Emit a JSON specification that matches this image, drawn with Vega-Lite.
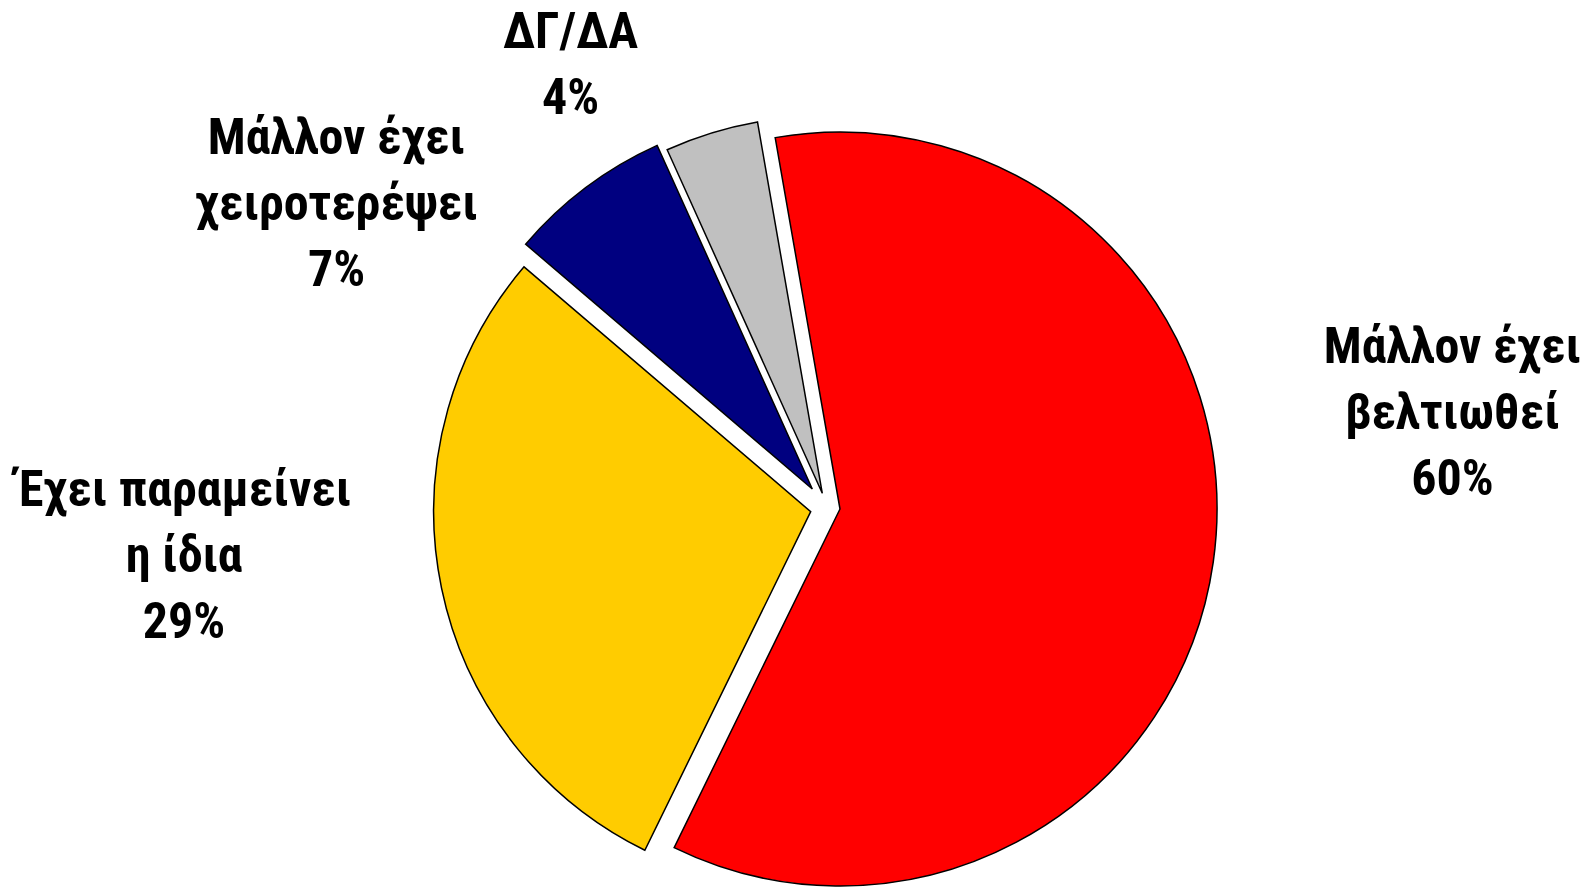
{
  "$schema": "https://vega.github.io/schema/vega-lite/v6.json",
  "width": 1542,
  "height": 760,
  "autosize": {"type": "none"},
  "padding": {"left": 54, "top": 127, "right": 0, "bottom": 0},
  "background": "white",
  "config": {"view": {"stroke": null}},
  "data": {"values": [
    {"category": "Μάλλον έχει βελτιωθεί", "value": 60, "label": "Μάλλον έχει\nβελτιωθεί\n60%"},
    {"category": "Έχει παραμείνει η ίδια", "value": 29, "label": "Έχει παραμείνει\nη ίδια\n29%"},
    {"category": "Μάλλον έχει χειροτερέψει", "value": 7, "label": "Μάλλον έχει\nχειροτερέψει\n7%"},
    {"category": "ΔΓ/ΔΑ", "value": 4, "label": "ΔΓ/ΔΑ\n4%"}
  ]},
  "transform": [
    {"stack": "value", "groupby": [], "sort": [{"field": "value", "order": "descending"}], "as": ["v0", "v1"]}
  ],
  "layer": [
    {
      "transform": [{"filter": "datum.category === 'Μάλλον έχει βελτιωθεί'"}],
      "mark": {"type": "arc", "outerRadius": 377, "xOffset": 15, "yOffset": 2, "stroke": "black", "strokeWidth": 1.5},
      "encoding": {
        "theta": {"field": "v0", "type": "quantitative", "scale": {"type": "linear", "domain": [0, 100], "range": [-0.1728, 6.1104]}},
        "theta2": {"field": "v1"},
        "color": {"field": "category", "type": "nominal", "legend": null,
          "scale": {"domain": ["Μάλλον έχει βελτιωθεί", "Έχει παραμείνει η ίδια", "Μάλλον έχει χειροτερέψει", "ΔΓ/ΔΑ"], "range": ["#FF0000", "#FFCC00", "#000080", "#C0C0C0"]}}
      }
    },
    {
      "transform": [{"filter": "datum.category === 'Έχει παραμείνει η ίδια'"}],
      "mark": {"type": "arc", "outerRadius": 377, "xOffset": -14.3, "yOffset": 4.7, "stroke": "black", "strokeWidth": 1.5},
      "encoding": {
        "theta": {"field": "v0", "type": "quantitative"},
        "theta2": {"field": "v1"},
        "color": {"field": "category", "type": "nominal", "legend": null}
      }
    },
    {
      "transform": [{"filter": "datum.category === 'Μάλλον έχει χειροτερέψει'"}],
      "mark": {"type": "arc", "outerRadius": 377, "xOffset": -12.7, "yOffset": -18, "stroke": "black", "strokeWidth": 1.5},
      "encoding": {
        "theta": {"field": "v0", "type": "quantitative"},
        "theta2": {"field": "v1"},
        "color": {"field": "category", "type": "nominal", "legend": null}
      }
    },
    {
      "transform": [{"filter": "datum.category === 'ΔΓ/ΔΑ'"}],
      "mark": {"type": "arc", "outerRadius": 377, "xOffset": -2.7, "yOffset": -13.7, "stroke": "black", "strokeWidth": 1.5},
      "encoding": {
        "theta": {"field": "v0", "type": "quantitative"},
        "theta2": {"field": "v1"},
        "color": {"field": "category", "type": "nominal", "legend": null}
      }
    },
    {
      "transform": [{"filter": "datum.category === 'Μάλλον έχει βελτιωθεί'"}],
      "mark": {"type": "text", "radius": 440, "dx": 703.1, "dy": 289.7, "font": "Roboto Condensed, Liberation Sans Narrow, Roboto, sans-serif", "fontWeight": "bold", "fontSize": 50, "lineBreak": "\n", "lineHeight": 66, "align": "center", "baseline": "alphabetic", "color": "black"},
      "encoding": {
        "theta": {"field": "v0", "type": "quantitative"},
        "text": {"field": "label"}
      }
    },
    {
      "transform": [{"filter": "datum.category === 'Έχει παραμείνει η ίδια'"}],
      "mark": {"type": "text", "radius": 440, "dx": -447.4, "dy": -396.4, "font": "Roboto Condensed, Liberation Sans Narrow, Roboto, sans-serif", "fontWeight": "bold", "fontSize": 50, "lineBreak": "\n", "lineHeight": 66, "align": "center", "baseline": "alphabetic", "color": "black"},
      "encoding": {
        "theta": {"field": "v0", "type": "quantitative"},
        "text": {"field": "label"}
      }
    },
    {
      "transform": [{"filter": "datum.category === 'Μάλλον έχει χειροτερέψει'"}],
      "mark": {"type": "text", "radius": 440, "dx": -153.9, "dy": -67, "font": "Roboto Condensed, Liberation Sans Narrow, Roboto, sans-serif", "fontWeight": "bold", "fontSize": 50, "lineBreak": "\n", "lineHeight": 66, "align": "center", "baseline": "alphabetic", "color": "black"},
      "encoding": {
        "theta": {"field": "v0", "type": "quantitative"},
        "text": {"field": "label"}
      }
    },
    {
      "transform": [{"filter": "datum.category === 'ΔΓ/ΔΑ'"}],
      "mark": {"type": "text", "radius": 440, "dx": -73.4, "dy": -57.7, "font": "Roboto Condensed, Liberation Sans Narrow, Roboto, sans-serif", "fontWeight": "bold", "fontSize": 50, "lineBreak": "\n", "lineHeight": 66, "align": "center", "baseline": "alphabetic", "color": "black"},
      "encoding": {
        "theta": {"field": "v0", "type": "quantitative"},
        "text": {"field": "label"}
      }
    }
  ]
}
